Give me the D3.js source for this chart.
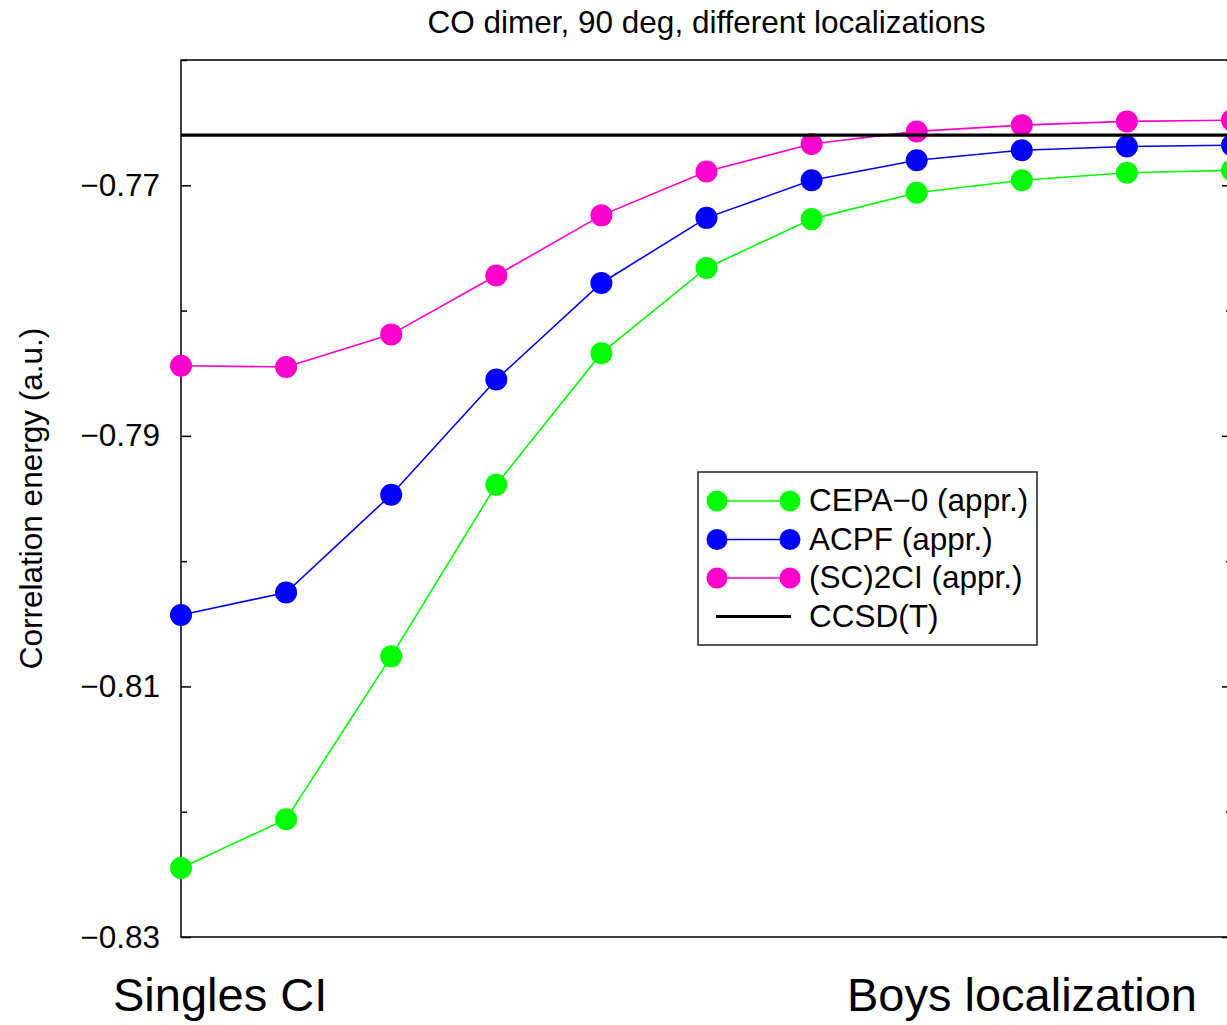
<!DOCTYPE html>
<html>
<head>
<meta charset="utf-8">
<script src="https://cdn.jsdelivr.net/npm/d3@7"></script>
<style>
  body { margin: 0; background: #fff; }
  svg text { font-family: 'Liberation Sans', Arial, Helvetica, sans-serif; fill: #000; }
</style>
</head>
<body>
<div id="chart"></div>
<script>
// values, x = step index 0..10
const steps = [0, 1, 2, 3, 4, 5, 6, 7, 8, 9, 10];
const cepa0 = [-0.8245, -0.8206, -0.8076, -0.7939, -0.7834, -0.7766, -0.7727, -0.7706, -0.7696, -0.7690, -0.7688];
const acpf = [-0.8043, -0.8025, -0.7947, -0.7855, -0.7778, -0.7726, -0.7696, -0.7680, -0.7672, -0.7669, -0.7668];
const sc2ci = [-0.7844, -0.7845, -0.7819, -0.7772, -0.7724, -0.7689, -0.7667, -0.7657, -0.7652, -0.7649, -0.7648];
const ccsdT = -0.7660;

const seriesNames = ['CEPA\u22120 (appr.)', 'ACPF (appr.)', '(SC)2CI (appr.)', 'CCSD(T)'];
const seriesColors = ['#00ff00', '#0000ff', '#ff00cc', '#000000'];
const majorTicks = [-0.83, -0.81, -0.79, -0.77];
const minorTicks = [-0.82, -0.80, -0.78, -0.76];
const xEndLabels = ['Singles CI', 'Boys localization'];
const title = 'CO dimer, 90 deg, different localizations';
const yTitle = 'Correlation energy (a.u.)';

const W = 1227, H = 1025;
const m = { left: 181, right: 1232, top: 60, bottom: 937 };
const fs = 31.5;

const svg = d3.select('#chart').append('svg')
  .attr('width', W)
  .attr('height', H);

const x = d3.scaleLinear().domain([0, 10]).range([m.left, m.right]);
const y = d3.scaleLinear().domain([-0.83, -0.76]).range([m.bottom, m.top]);

// ticks, inward on both sides
const fmt = d3.format('.2f');
svg.append('g')
  .attr('transform', `translate(${m.left},0)`)
  .call(d3.axisLeft(y).tickValues(majorTicks).tickSize(-10).tickPadding(21).tickFormat(fmt))
  .call(g => g.select('.domain').remove())
  .call(g => g.selectAll('line').attr('stroke', '#000').attr('stroke-width', 1.5))
  .call(g => g.selectAll('text').attr('font-size', fs).attr('font-family', "'Liberation Sans', Arial, sans-serif"));

svg.append('g')
  .attr('transform', `translate(${m.left},0)`)
  .call(d3.axisLeft(y).tickValues(minorTicks).tickSize(-6).tickFormat(''))
  .call(g => g.select('.domain').remove())
  .call(g => g.selectAll('line').attr('stroke', '#000').attr('stroke-width', 1.5));

svg.append('g')
  .attr('transform', `translate(${m.right},0)`)
  .call(d3.axisRight(y).tickValues(majorTicks).tickSize(-10).tickFormat(''))
  .call(g => g.select('.domain').remove())
  .call(g => g.selectAll('line').attr('stroke', '#000').attr('stroke-width', 1.5));

svg.append('g')
  .attr('transform', `translate(${m.right},0)`)
  .call(d3.axisRight(y).tickValues(minorTicks).tickSize(-6).tickFormat(''))
  .call(g => g.select('.domain').remove())
  .call(g => g.selectAll('line').attr('stroke', '#000').attr('stroke-width', 1.5));

// frame
svg.append('rect')
  .attr('x', m.left)
  .attr('y', m.top)
  .attr('width', m.right - m.left)
  .attr('height', m.bottom - m.top)
  .attr('fill', 'none')
  .attr('stroke', '#000')
  .attr('stroke-width', 1.5);

// series
const line = d3.line()
  .x((d, i) => x(steps[i]))
  .y(d => y(d));

[cepa0, acpf, sc2ci].forEach((vals, k) => {
  svg.append('path')
    .datum(vals)
    .attr('fill', 'none')
    .attr('stroke', seriesColors[k])
    .attr('stroke-width', 1.6)
    .attr('d', line);

  svg.append('g')
    .selectAll('circle')
    .data(vals)
    .join('circle')
    .attr('cx', (d, i) => x(steps[i]))
    .attr('cy', d => y(d))
    .attr('r', 11)
    .attr('fill', seriesColors[k]);
});

// reference CCSD(T)
svg.append('line')
  .attr('x1', x(0))
  .attr('x2', x(10))
  .attr('y1', y(ccsdT))
  .attr('y2', y(ccsdT))
  .attr('stroke', '#000')
  .attr('stroke-width', 3.2);

// titles
svg.append('text')
  .attr('x', (m.left + m.right) / 2)
  .attr('y', 33)
  .attr('text-anchor', 'middle')
  .attr('font-size', fs)
  .text(title);

svg.append('text')
  .attr('transform', `translate(42,${(m.top + m.bottom) / 2}) rotate(-90)`)
  .attr('text-anchor', 'middle')
  .attr('font-size', fs)
  .text(yTitle);

svg.append('text')
  .attr('x', 113)
  .attr('y', 1011)
  .attr('font-size', 47)
  .text(xEndLabels[0]);

svg.append('text')
  .attr('x', 1197)
  .attr('y', 1011)
  .attr('text-anchor', 'end')
  .attr('font-size', 47)
  .text(xEndLabels[1]);

// legend
const lg = svg.append('g').attr('transform', 'translate(698,472)');
lg.append('rect')
  .attr('width', 339)
  .attr('height', 173)
  .attr('fill', '#fff')
  .attr('stroke', '#222')
  .attr('stroke-width', 1.5);

seriesNames.forEach((name, k) => {
  const ry = 29 + k * 38.5;
  const row = lg.append('g').attr('transform', `translate(0,${ry})`);
  if (k < 3) {
    row.append('line')
      .attr('x1', 19).attr('x2', 92)
      .attr('stroke', seriesColors[k])
      .attr('stroke-width', 1.6);
    row.selectAll('circle')
      .data([19, 92])
      .join('circle')
      .attr('cx', d => d)
      .attr('r', 10.5)
      .attr('fill', seriesColors[k]);
  } else {
    row.append('line')
      .attr('x1', 18).attr('x2', 93)
      .attr('stroke', seriesColors[k])
      .attr('stroke-width', 3.2);
  }
  row.append('text')
    .attr('x', 111)
    .attr('dy', '0.33em')
    .attr('font-size', fs)
    .text(name);
});
</script>
</body>
</html>
